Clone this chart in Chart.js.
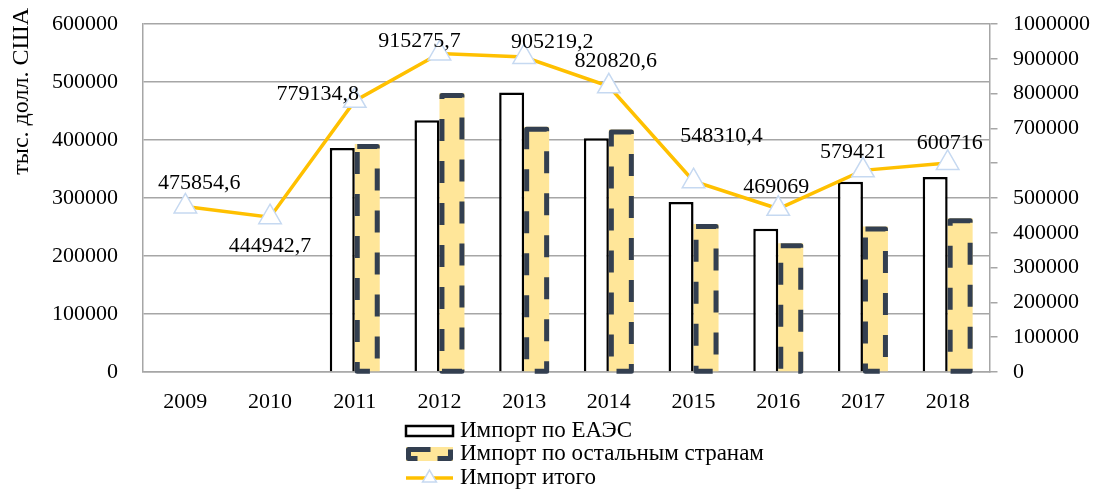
<!DOCTYPE html>
<html>
<head>
<meta charset="utf-8">
<script src="https://cdn.jsdelivr.net/npm/chart.js@4.4.0/dist/chart.umd.min.js"></script>
<style>
  html, body { margin: 0; padding: 0; background: #fff; }
  #wrap { width: 1094px; height: 489px; }
</style>
</head>
<body>
<div id="wrap"><canvas id="chart"></canvas></div>
<script>
const years = ["2009", "2010", "2011", "2012", "2013", "2014", "2015", "2016", "2017", "2018"];
const importEaes = [null, null, 386000, 434000, 482000, 403000, 293000, 247000, 328000, 336000];
const importOther = [null, null, 393000, 481000, 423000, 418000, 255000, 222000, 251000, 265000];
const importTotal = [475854.6, 444942.7, 779134.8, 915275.7, 905219.2, 820820.6, 548310.4, 469069, 579421, 600716];
const leftTicks = [0, 100000, 200000, 300000, 400000, 500000, 600000];
const rightTicks = [0, 100000, 200000, 300000, 400000, 500000, 600000, 700000, 800000, 900000, 1000000];
const hiddenRightTicks = [600000];
const seriesNames = ["Импорт по ЕАЭС", "Импорт по остальным странам", "Импорт итого"];
const axisTitle = "тыс. долл. США";

// where each total label sits relative to its point (px)
const labelOffsets = [[14, -23], [0, 29], [-37, -7], [-20, -12], [28, -15], [7, -25], [28, -45], [-2, -22], [-10, -18], [2, -20]];

const FONT = "'Liberation Serif', 'Times New Roman', serif";
const NAVY = "#333f50";
const YELLOW = "#ffe699";
const ORANGE = "#ffc000";
const MARKER = "#c6d9f1";
const GRID = "#a6a6a6";

function fmt(v) {
  return String(v).replace(".", ",");
}

function dashedOutline(ctx, x, y, w, h) {
  ctx.save();
  ctx.strokeStyle = NAVY;
  ctx.lineWidth = 5;
  ctx.lineJoin = "round";
  ctx.setLineDash([22, 20]);
  ctx.strokeRect(x, y, w, h);
  ctx.restore();
}

function drawTriangle(ctx, x, y, r) {
  ctx.save();
  ctx.beginPath();
  ctx.moveTo(x, y - r);
  ctx.lineTo(x + r * 0.866, y + r / 2);
  ctx.lineTo(x - r * 0.866, y + r / 2);
  ctx.closePath();
  ctx.fillStyle = "#fff";
  ctx.fill();
  ctx.strokeStyle = MARKER;
  ctx.lineWidth = 1.5;
  ctx.stroke();
  ctx.restore();
}

// dashed border for "other countries" bars, drawn before the line goes on top
const barOutline = {
  id: "barOutline",
  afterDatasetDraw(chart, args) {
    if (args.index !== 0) return;
    const meta = chart.getDatasetMeta(1);
    meta.data.forEach((bar, i) => {
      if (importOther[i] == null) return;
      const p = bar.getProps(["x", "y", "base", "width"], true);
      dashedOutline(chart.ctx, p.x - p.width / 2 + 2.5, p.y + 2.5, p.width - 5, p.base - p.y - 2.5);
    });
  }
};

const totalLabels = {
  id: "totalLabels",
  afterDatasetsDraw(chart) {
    const ctx = chart.ctx;
    const meta = chart.getDatasetMeta(2);
    ctx.save();
    ctx.font = "22px " + FONT;
    ctx.fillStyle = "#000";
    ctx.textAlign = "center";
    ctx.textBaseline = "middle";
    meta.data.forEach((pt, i) => {
      const off = labelOffsets[i];
      ctx.fillText(fmt(importTotal[i]), pt.x + off[0], pt.y + off[1]);
    });
    ctx.restore();
  }
};

// left axis title sits above the plot top, so it is drawn here
const leftTitle = {
  id: "leftTitle",
  afterDraw(chart) {
    const ctx = chart.ctx;
    ctx.save();
    ctx.translate(22, 8);
    ctx.rotate(-Math.PI / 2);
    ctx.font = "24px " + FONT;
    ctx.fillStyle = "#000";
    ctx.textAlign = "right";
    ctx.textBaseline = "middle";
    ctx.fillText(axisTitle, 0, 0);
    ctx.restore();
  }
};

const bottomLegend = {
  id: "bottomLegend",
  afterDraw(chart) {
    const ctx = chart.ctx;
    const x0 = 406, w = 47, tx = 460;
    const rows = [431, 454, 478];
    ctx.save();
    // row 1
    ctx.strokeStyle = "#000";
    ctx.lineWidth = 2.5;
    ctx.strokeRect(x0, rows[0] - 5, w, 10);
    // row 2
    ctx.fillStyle = YELLOW;
    ctx.fillRect(x0, rows[1] - 7, w, 14);
    dashedOutline(ctx, x0 + 2.5, rows[1] - 4.5, w - 5, 9);
    // row 3
    ctx.strokeStyle = ORANGE;
    ctx.lineWidth = 3.5;
    ctx.beginPath();
    ctx.moveTo(x0, rows[2]);
    ctx.lineTo(x0 + w, rows[2]);
    ctx.stroke();
    drawTriangle(ctx, x0 + w / 2, rows[2], 8);
    ctx.font = "23px " + FONT;
    ctx.fillStyle = "#000";
    ctx.textBaseline = "middle";
    seriesNames.forEach((n, i) => ctx.fillText(n, tx, rows[i]));
    ctx.restore();
  }
};

new Chart(document.getElementById("chart"), {
  data: {
    labels: years,
    datasets: [
      {
        type: "bar",
        label: seriesNames[0],
        data: importEaes,
        yAxisID: "y",
        order: 1,
        backgroundColor: "#fff",
        borderColor: "#000",
        borderWidth: 2.5,
        categoryPercentage: 0.59,
        barPercentage: 1
      },
      {
        type: "bar",
        label: seriesNames[1],
        data: importOther,
        yAxisID: "y",
        order: 2,
        backgroundColor: YELLOW,
        borderWidth: 0,
        categoryPercentage: 0.59,
        barPercentage: 1
      },
      {
        type: "line",
        label: seriesNames[2],
        data: importTotal,
        yAxisID: "y1",
        order: 0,
        borderColor: ORANGE,
        borderWidth: 3.5,
        tension: 0,
        pointStyle: "triangle",
        pointRadius: 13,
        pointBackgroundColor: "#fff",
        pointBorderColor: MARKER,
        pointBorderWidth: 1.5
      }
    ]
  },
  options: {
    responsive: true,
    maintainAspectRatio: false,
    animation: false,
    layout: { padding: { top: 24, left: 0, right: 0, bottom: 0 } },
    plugins: {
      legend: { display: false },
      tooltip: { enabled: false }
    },
    scales: {
      x: {
        offset: true,
        grid: { display: false, drawTicks: false },
        border: { display: true, color: GRID, width: 1.5 },
        ticks: { color: "#000", font: { family: FONT, size: 22 }, padding: 17 },
        afterFit: s => { s.height = 489 - 372; }
      },
      y: {
        position: "left",
        min: 0,
        max: 600000,
        afterBuildTicks: s => { s.ticks = leftTicks.map(v => ({ value: v })); },
        grid: { color: GRID, lineWidth: 1.5, drawTicks: true, tickLength: 25, tickColor: "rgba(0,0,0,0)" },
        border: { display: true, color: GRID, width: 1.5 },
        ticks: { color: "#000", font: { family: FONT, size: 22 }, padding: 0, callback: v => String(v) },
        afterFit: s => { s.width = 143; }
      },
      y1: {
        position: "right",
        min: 0,
        max: 1000000,
        afterBuildTicks: s => { s.ticks = rightTicks.map(v => ({ value: v })); },
        grid: { drawOnChartArea: false, color: GRID, lineWidth: 1.5, tickLength: 23, tickBorderDash: [7, 60] },
        border: { display: true, color: GRID, width: 1.5 },
        ticks: { color: "#000", font: { family: FONT, size: 22 }, padding: 0, callback: v => hiddenRightTicks.includes(v) ? "" : String(v) },
        afterFit: s => { s.width = 104; }
      }
    }
  },
  plugins: [barOutline, totalLabels, leftTitle, bottomLegend]
});
</script>
</body>
</html>
